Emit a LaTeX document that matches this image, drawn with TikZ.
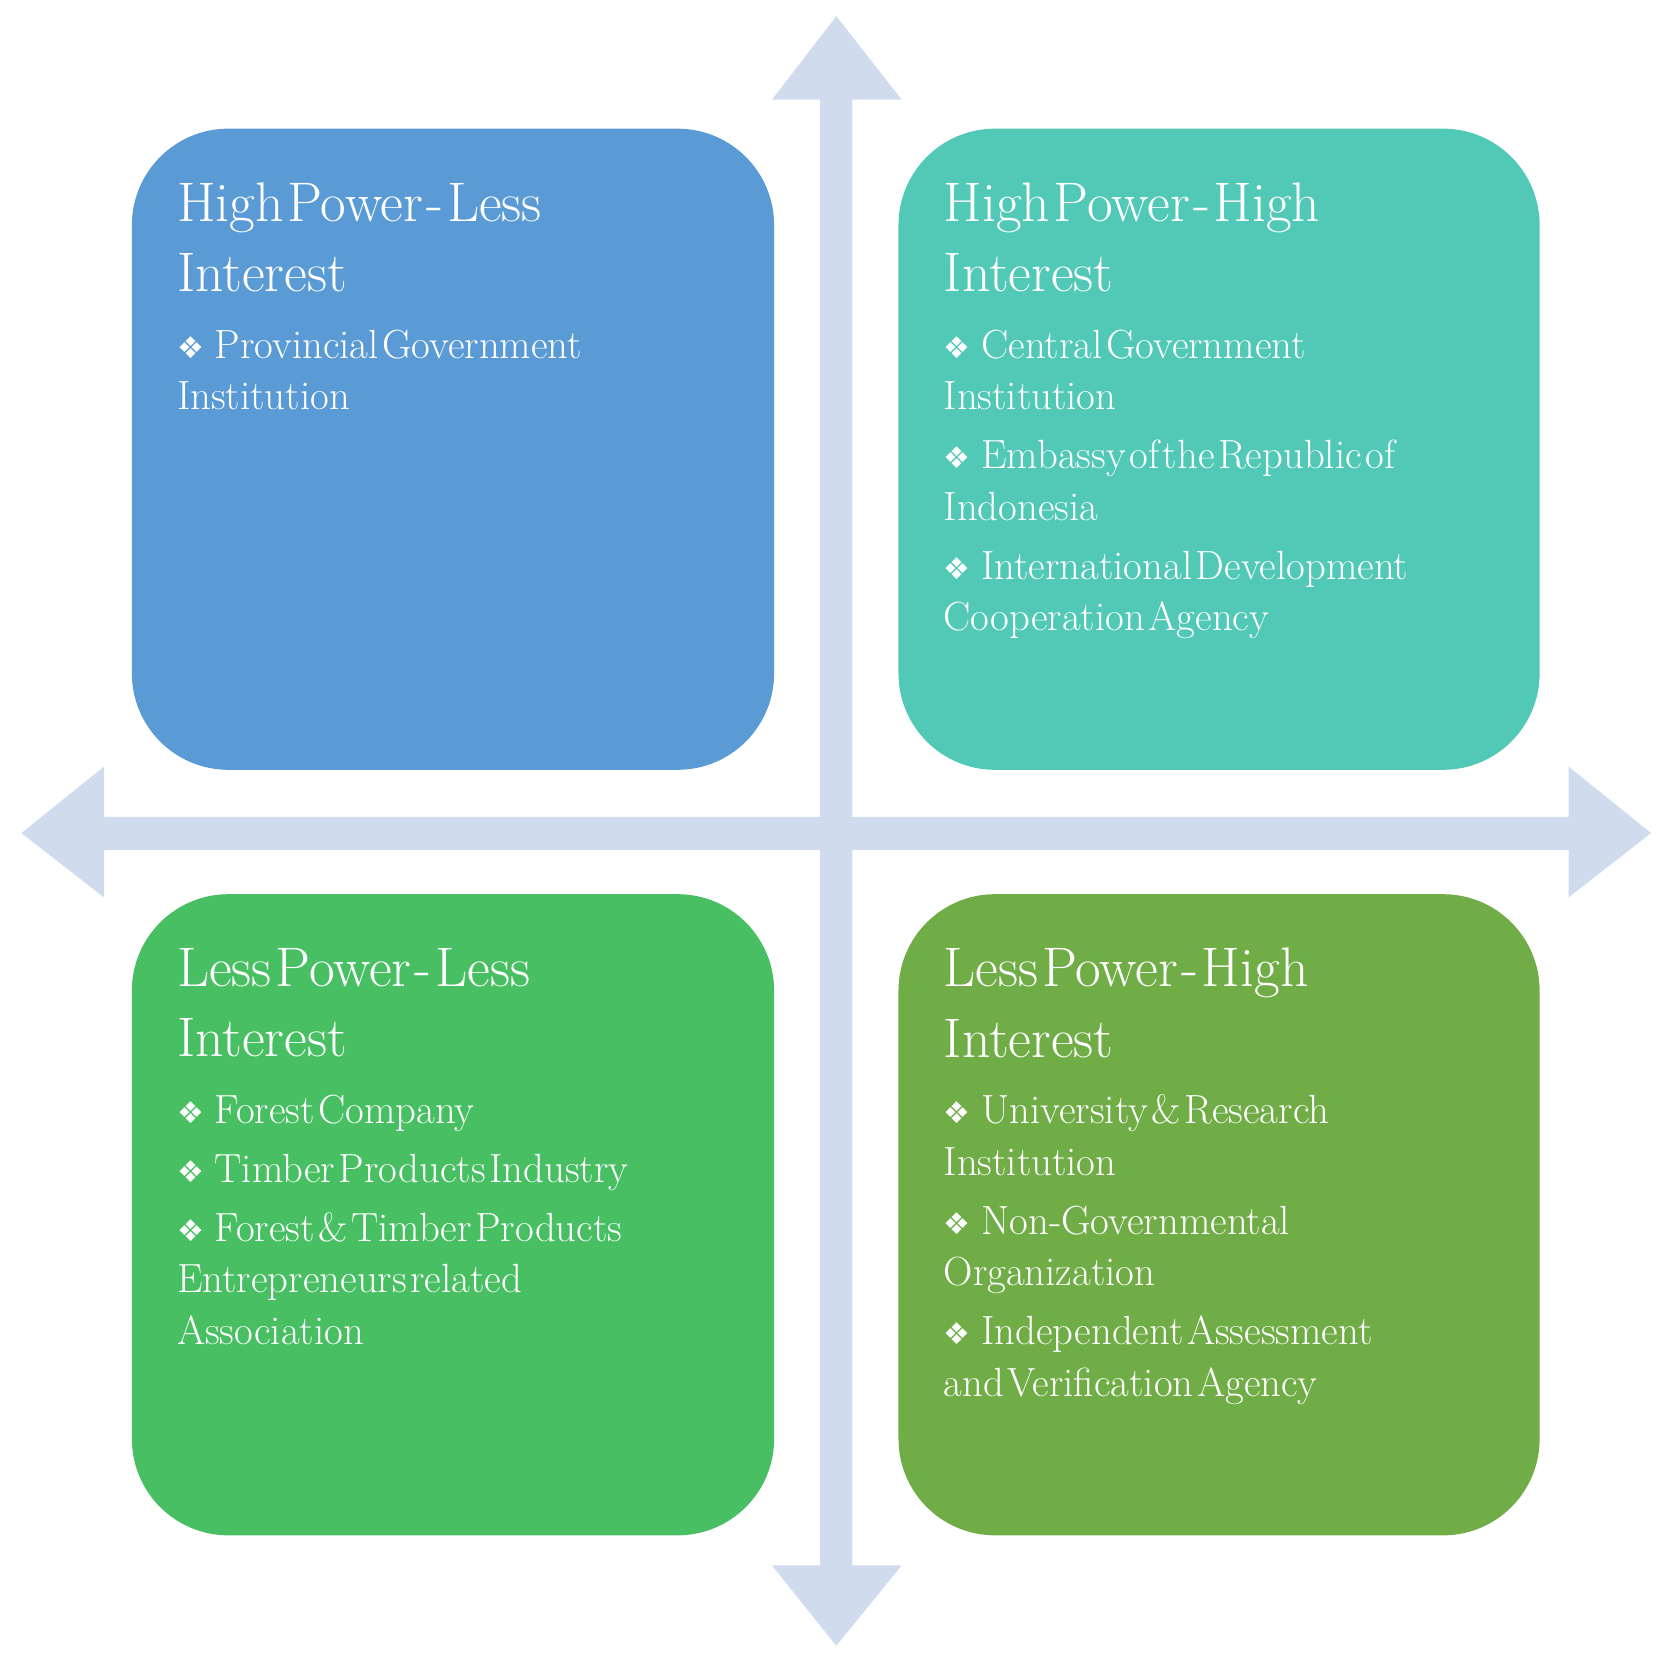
\documentclass[tikz,border=0pt]{standalone}
\usepackage{fontspec}
\newfontfamily\symf{DejaVu Sans}
\definecolor{axc}{HTML}{D0DCEE}
\definecolor{ctl}{HTML}{5B9BD5}
\definecolor{ctr}{HTML}{52C9B6}
\definecolor{cbl}{HTML}{48BF62}
\definecolor{cbr}{HTML}{70AD47}
\newcommand{\hd}[1]{{\fontsize{52}{66}\selectfont #1\par}\vspace{14pt}}
\newcommand{\itm}[1]{{\fontsize{38}{48}\selectfont\hangindent=35pt\hangafter=1\noindent\makebox[35pt][l]{\symf\fontsize{28}{48}\selectfont ❖}#1\par}\vspace{7pt}}
\begin{document}
\begin{tikzpicture}[x=1pt,y=-1pt,
  box/.style={rounded corners=90pt},
  txt/.style={anchor=north west,inner sep=0pt,text=white,text width=560pt,align=left}]
\useasboundingbox (0,0) rectangle (1566,1552);
\fill[axc] (780,15) -- (841,93) -- (795,93) -- (795,1460) -- (841,1460) -- (780,1535) -- (720,1460) -- (765,1460) -- (765,93) -- (720,93) -- cycle;
\fill[axc] (20,777) -- (97,715) -- (97,762) -- (1463,762) -- (1463,715) -- (1540,777) -- (1463,837) -- (1463,793) -- (97,793) -- (97,837) -- cycle;
\fill[ctl,box] (123,120) rectangle (722,718);
\fill[ctr,box] (838,120) rectangle (1436,718);
\fill[cbl,box] (123,834) rectangle (722,1432);
\fill[cbr,box] (838,834) rectangle (1436,1432);
\node[txt] (tl) at (165,170) {\hd{High Power - Less\\Interest}\itm{Provincial Government\\Institution}};
\node[txt] (tr) at (880,170) {\hd{High Power - High\\Interest}\itm{Central Government\\Institution}\itm{Embassy of the Republic of\\Indonesia}\itm{International Development\\Cooperation Agency}};
\node[txt] (bl) at (165,884) {\hd{Less Power - Less\\Interest}\itm{Forest Company}\itm{Timber Products Industry}\itm{Forest \& Timber Products\\Entrepreneurs related\\Association}};
\node[txt] (br) at (880,884) {\hd{Less Power - High\\Interest}\itm{University \& Research\\Institution}\itm{Non-Governmental\\Organization}\itm{Independent Assessment\\and Verification Agency}};
\end{tikzpicture}
\end{document}
